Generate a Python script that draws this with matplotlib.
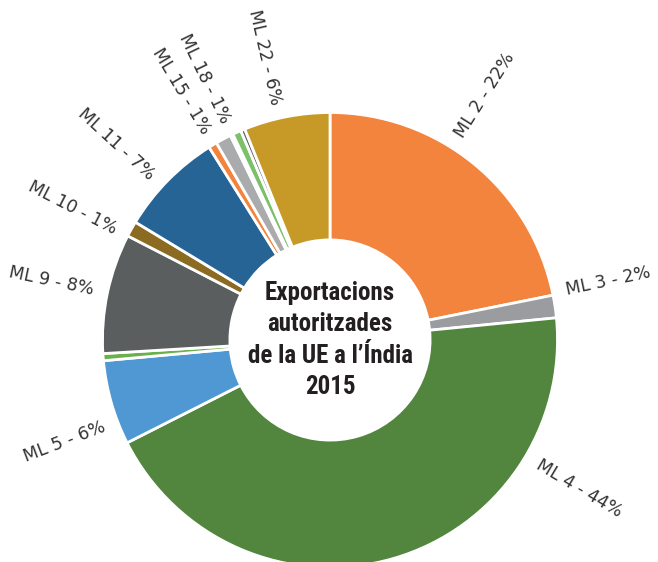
import numpy as np
import matplotlib.pyplot as plt

# Exportacions autoritzades de la UE a l'Índia, 2015 (per categoria ML)
categories = ["ML 2", "ML 3", "ML 4", "ML 5", "ML 8", "ML 9", "ML 10", "ML 11",
              "ML 13", "ML 15", "ML 17", "ML 18", "ML 21", "ML 22"]
shares = [21.8, 1.6, 44.0, 6.0, 0.5, 8.5, 1.1, 7.4, 0.6, 1.1, 0.2, 0.6, 0.3, 6.1]
# only these get an outside label (text as printed in the chart)
label_pct = {"ML 2": 22, "ML 3": 2, "ML 4": 44, "ML 5": 6, "ML 9": 8,
             "ML 10": 1, "ML 11": 7, "ML 15": 1, "ML 18": 1, "ML 22": 6}
colors = ["#F3843E", "#9A9C9F", "#52853D", "#5098D3", "#6AB04C", "#5A5E5F",
          "#8B6A22", "#266496", "#F3843E", "#A9ABAD", "#F5C342", "#7CC16A",
          "#666666", "#C79A28"]

# label angle shift (deg, clockwise bearing) relative to wedge middle
label_shift = {"ML 2": -7, "ML 3": -3.5, "ML 4": -43, "ML 5": -5, "ML 9": 0,
               "ML 10": -2, "ML 11": -2, "ML 15": -3, "ML 18": -1.5, "ML 22": -2}

fig = plt.figure(figsize=(6.58, 5.62), dpi=100)
ax = fig.add_axes([0, 0, 1, 1])

wedges, _ = ax.pie(shares, colors=colors, startangle=90, counterclock=False,
                   radius=1.0,
                   wedgeprops=dict(width=0.56, edgecolor="white", linewidth=2))

# outside labels, rotated along the radius
total = sum(shares)
cum = np.cumsum([0] + shares[:-1])
for name, start, val in zip(categories, cum, shares):
    if name not in label_pct:
        continue
    bearing = (start + val / 2) / total * 360 + label_shift[name]
    th = np.deg2rad(90 - bearing)
    r = 1.06
    x, y = r * np.cos(th), r * np.sin(th)
    if bearing <= 180:
        rot, ha = 90 - bearing, "left"
    else:
        rot, ha = 270 - bearing, "right"
    ax.text(x, y, f"{name} - {label_pct[name]}%", rotation=rot, ha=ha, va="center",
            rotation_mode="anchor", fontsize=12.5, color="#333333",
            family="DejaVu Sans")

ax.text(0, 0, "Exportacions\nautoritzades\nde la UE a l\u2019\u00cdndia\n2015",
        ha="center", va="center", fontsize=18, fontweight="bold",
        fontstretch="condensed", color="#231F20", linespacing=1.38,
        family=["Roboto Condensed", "DejaVu Sans Condensed",
                "Liberation Sans Narrow", "DejaVu Sans"])

ax.set_aspect("equal")
ax.set_xlim(-330 / 227.5, 328 / 227.5)
ax.set_ylim(-222 / 227.5, 340 / 227.5)
ax.axis("off")

fig.savefig("out.png", dpi=100)
